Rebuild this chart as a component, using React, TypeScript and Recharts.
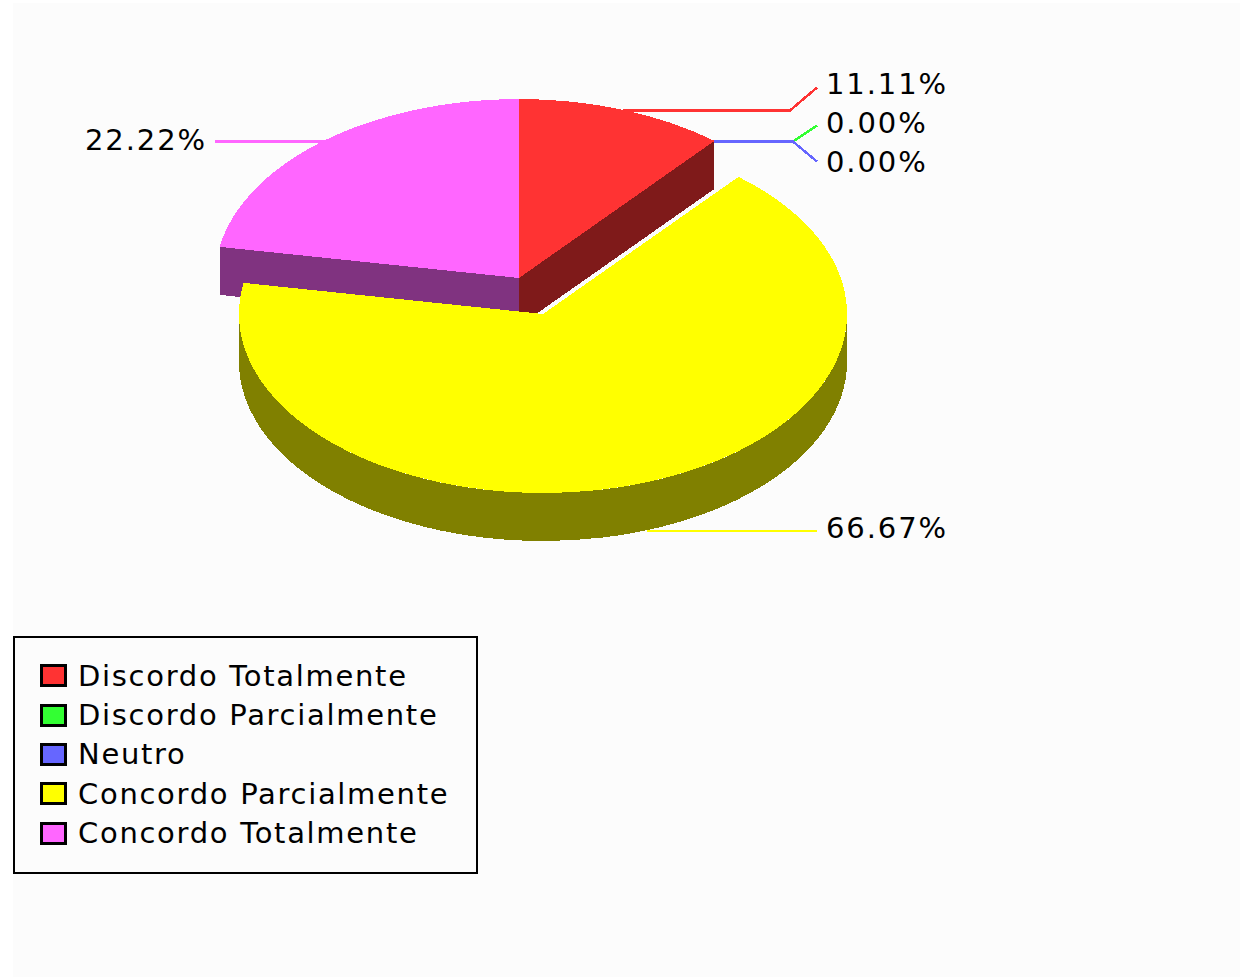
import React from 'react';
import { PieChart, Pie, Legend } from 'recharts';

const categories = ['Discordo Totalmente', 'Discordo Parcialmente', 'Neutro', 'Concordo Parcialmente', 'Concordo Totalmente'];
const percentages = [11.11, 0, 0, 66.67, 22.22];
const colors = ['#FF3333', '#33FF33', '#6666FF', '#FFFF00', '#FF66FF'];
const sideColors = ['#7F1A1A', '#1A7F1A', '#333380', '#808000', '#803380'];

const FONT = '"DejaVu Sans", Verdana, sans-serif';
const TILT = 179 / 304;
const DEPTH = 48;
const EXPLODED = 'Concordo Parcialmente';
const EXPLODE_DX = 24;
const EXPLODE_DY = 36;
const LABEL_LIFT: Record<string, number> = {
  'Discordo Totalmente': 23,
  'Discordo Parcialmente': 16,
  Neutro: -20,
  'Concordo Parcialmente': 0,
  'Concordo Totalmente': 0,
};
const TEXT_LIFT: Record<string, number> = {
  'Discordo Totalmente': 26,
  'Discordo Parcialmente': 18,
  Neutro: -21,
  'Concordo Parcialmente': 2,
  'Concordo Totalmente': 1,
};
const ELBOW_X: Record<string, number> = {
  'Discordo Totalmente': 790,
  'Discordo Parcialmente': 793,
  Neutro: 793,
};

// Painted green, red, pink, yellow, blue: the exploded yellow slice covers the slices behind it,
// and blue's leader lies over green's. Going counter-clockwise this is still the chart's slice order.
const paintOrder = [1, 0, 4, 3, 2];
const pieData = paintOrder.map((i) => ({
  name: categories[i],
  value: percentages[i],
  fill: colors[i],
  side: sideColors[i],
}));

const rad = (a: number) => (a * Math.PI) / 180;
const offsetOf = (name: string) => (name === EXPLODED ? [EXPLODE_DX, EXPLODE_DY] : [0, 0]);

function rimPoint(cx: number, cy: number, r: number, a: number) {
  return [cx + r * Math.cos(rad(a)), cy - r * TILT * Math.sin(rad(a))];
}

function Slice3D(props: any) {
  const { cx, cy, outerRadius: r, startAngle, endAngle, name, fill, payload } = props;
  const label = name ?? payload?.name;
  const side = payload?.side ?? props.side;
  const [dx, dy] = offsetOf(label);
  const x0 = cx + dx;
  const y0 = cy + dy;
  const a0 = Math.min(startAngle, endAngle);
  const a1 = Math.max(startAngle, endAngle);
  if (a1 - a0 < 0.01) return null;
  const ry = r * TILT;
  const crisp = { shapeRendering: 'crispEdges' as const };

  const walls: string[] = [];
  [[180, 360], [540, 720]].forEach(([lo, hi]) => {
    const s = Math.max(a0, lo);
    const e = Math.min(a1, hi);
    if (e > s) {
      const [sx, sy] = rimPoint(x0, y0, r, s);
      const [ex, ey] = rimPoint(x0, y0, r, e);
      walls.push(
        `M${sx},${sy}A${r},${ry} 0 ${e - s > 180 ? 1 : 0} 0 ${ex},${ey}L${ex},${ey + DEPTH}A${r},${ry} 0 ${e - s > 180 ? 1 : 0} 1 ${sx},${sy + DEPTH}Z`
      );
    }
  });
  const cuts = [a0, a1].map((a) => {
    const [px, py] = rimPoint(x0, y0, r, a);
    return `M${x0},${y0}L${px},${py}L${px},${py + DEPTH}L${x0},${y0 + DEPTH}Z`;
  });
  const [sx, sy] = rimPoint(x0, y0, r, a0);
  const [ex, ey] = rimPoint(x0, y0, r, a1);
  const top = `M${x0},${y0}L${sx},${sy}A${r},${ry} 0 ${a1 - a0 > 180 ? 1 : 0} 0 ${ex},${ey}Z`;
  return (
    <g>
      {cuts.map((d, i) => <path key={i} d={d} fill={side} {...crisp} />)}
      {walls.map((d, i) => <path key={i} d={d} fill={side} {...crisp} />)}
      <path d={top} fill={fill} {...crisp} />
    </g>
  );
}

function SliceLabel(props: any) {
  const { cx, cy, outerRadius: r, midAngle, name, value, fill } = props;
  const [dx, dy] = offsetOf(name);
  const [px, rimY] = rimPoint(cx + dx, cy + dy, r, midAngle);
  const py = (Math.sin(rad(midAngle)) < 0 ? rimY + DEPTH : rimY) + 0.7;
  const right = Math.cos(rad(midAngle)) >= 0;
  const lift = LABEL_LIFT[name] ?? 0;
  const endX = right ? 817 : 215;
  const elbowX = ELBOW_X[name] ?? endX;
  const text = `${Number(value).toFixed(2)}%`;
  return (
    <g>
      <polyline
        points={`${px},${py} ${elbowX},${py} ${endX},${py - lift}`}
        fill="none"
        stroke={fill}
        strokeWidth={2.5}
        shapeRendering="crispEdges"
      />
      <text
        x={right ? 826 : 207}
        y={py - 0.7 - (TEXT_LIFT[name] ?? 0)}
        textAnchor={right ? 'start' : 'end'}
        dominantBaseline="central"
        fontFamily={FONT}
        fontSize={29}
        letterSpacing={1.9}
        fill="#000000"
      >
        {text}
      </text>
    </g>
  );
}

function LegendBox() {
  return (
    <div
      style={{
        boxSizing: 'border-box',
        width: 465,
        height: 238,
        border: '2px solid #000',
        background: '#FCFCFC',
        paddingTop: 18,
        paddingLeft: 25,
        fontFamily: FONT,
        fontSize: 29,
        letterSpacing: 1.7,
        color: '#000',
      }}
    >
      {categories.map((c, i) => (
        <div key={c} style={{ display: 'flex', alignItems: 'center', height: 39.4, whiteSpace: 'nowrap' }}>
          <span
            style={{
              boxSizing: 'border-box',
              display: 'inline-block',
              width: 27,
              height: 23,
              border: '3px solid #000',
              background: colors[i],
              marginRight: 11,
            }}
          />
          {c}
        </div>
      ))}
    </div>
  );
}

export default function App() {
  return (
    <div style={{ position: 'absolute', left: 0, top: 0, width: 1250, height: 977, overflow: 'hidden', background: '#FFFFFF' }}>
      <div style={{ position: 'absolute', left: 13, top: 3, width: 1227, height: 974, background: '#FCFCFC' }} />
      <PieChart width={1250} height={977} margin={{ top: 0, right: 0, bottom: 0, left: 0 }} style={{ position: 'absolute', left: 0, top: 0 }}>
        <Pie
          data={pieData}
          dataKey="value"
          nameKey="name"
          cx={519}
          cy={278}
          innerRadius={0}
          outerRadius={304}
          startAngle={50}
          endAngle={410}
          stroke="none"
          isAnimationActive={false}
          shape={Slice3D}
          label={SliceLabel}
          labelLine={false}
        />
        <Legend
          content={LegendBox}
          wrapperStyle={{ position: 'absolute', left: 13, top: 636, width: 465, height: 238 }}
        />
      </PieChart>
    </div>
  );
}
